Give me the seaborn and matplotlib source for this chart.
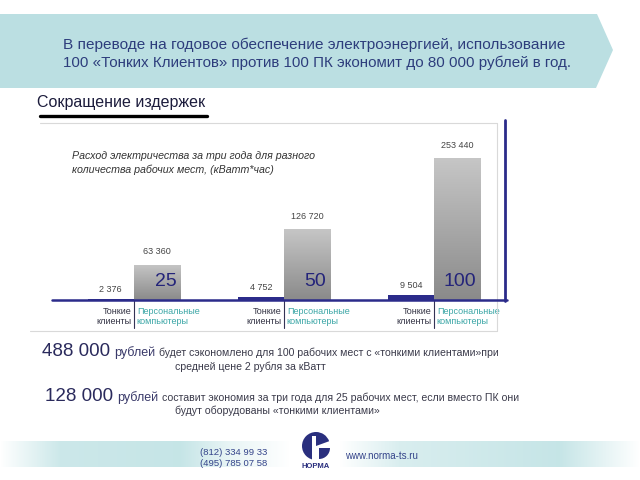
import numpy as np
import pandas as pd
import seaborn as sns
import matplotlib
matplotlib.use('Agg')
import matplotlib.pyplot as plt
from matplotlib.patches import Polygon, Wedge, Rectangle
from matplotlib.lines import Line2D
import matplotlib.transforms as mtransforms

# ---------------- data ----------------
groups = ['25', '50', '100']
types = ['Тонкие\nклиенты', 'Персональные\nкомпьютеры']
thin_values = [2376, 4752, 9504]
pc_values = [63360, 126720, 253440]

title_lines = ['В переводе на годовое обеспечение электроэнергией, использование',
               '100 «Тонких Клиентов» против 100 ПК экономит до 80 000 рублей в год.']
section_title = 'Сокращение издержек'
chart_note = 'Расход электричества за три года для разного\nколичества рабочих мест, (кВатт*час)'
savings = [('488 000', 'рублей', 'будет сэкономлено для 100 рабочих мест с «тонкими клиентами»при',
            'средней цене 2 рубля за кВатт'),
           ('128 000', 'рублей', 'составит экономия за три года для 25 рабочих мест, если вместо ПК они',
            'будут оборудованы «тонкими клиентами»')]
phones = '(812) 334 99 33\n(495) 785 07 58'
site = 'www.norma-ts.ru'
brand = 'НОРМА'

df = pd.DataFrame({'group': groups * 2,
                   'type': [types[0]] * 3 + [types[1]] * 3,
                   'value': thin_values + pc_values})

sns.set_theme(style='white')
plt.rcParams['font.family'] = ['Liberation Sans', 'DejaVu Sans']
NARROW = ['Liberation Sans Narrow', 'Liberation Sans', 'DejaVu Sans']

W, H = 640, 480
fig = plt.figure(figsize=(6.4, 4.8), dpi=100)
fig.patch.set_facecolor('white')


def fx(x):
    return x / W


def fy(y):
    return 1 - y / H


NAVY = '#2b2b8a'
TITLE = '#2d3d7c'

# ---------------- banner ----------------
banner = Polygon([(fx(0), fy(14)), (fx(597), fy(14)), (fx(613), fy(50)),
                  (fx(596), fy(88)), (fx(0), fy(88))], closed=True,
                 transform=fig.transFigure, facecolor='#bbdfe2', edgecolor='none', zorder=0)
fig.patches.append(banner)
fig.text(fx(63), fy(45), title_lines[0], fontsize=11.1, color=TITLE, va='center', ha='left')
fig.text(fx(63), fy(63), title_lines[1], fontsize=10.9, color=TITLE, va='center', ha='left')

fig.text(fx(37), fy(102), section_title, fontsize=11.5, color='#1c1c3c', va='center', ha='left')
fig.add_artist(Line2D([fx(40), fx(207)], [fy(116), fy(116)], color='black', lw=2.4,
                      transform=fig.transFigure))

# chart frame (light gray)
frame_col = '#d9d9d9'
fig.add_artist(Line2D([fx(40), fx(497)], [fy(123), fy(123)], color=frame_col, lw=0.8, transform=fig.transFigure))
fig.add_artist(Line2D([fx(497), fx(497)], [fy(123), fy(331)], color=frame_col, lw=0.8, transform=fig.transFigure))
fig.add_artist(Line2D([fx(30), fx(497)], [fy(331), fy(331)], color=frame_col, lw=0.8, transform=fig.transFigure))

# ---------------- bar chart ----------------
ax = fig.add_axes([fx(40), fy(300), 465 / W, 180 / H])
sns.barplot(data=df, x='group', y='value', hue='type', hue_order=types,
            palette=[NAVY, '#a0a0a0'], width=0.62, dodge=True, ax=ax,
            legend=False, saturation=1, linewidth=0, errorbar=None)
ax.set_xlim(-(134 - 40) / 150, (505 - 134) / 150)
ax.set_ylim(0, 180 * 253440 / 142)
ax.axis('off')
ax.patch.set_alpha(0)

thin_c, pc_c = ax.containers[0], ax.containers[1]

# gradient on PC bars
grad = np.linspace(0, 1, 256).reshape(-1, 1)
cmap = matplotlib.colors.LinearSegmentedColormap.from_list('g', ['#c6c6c6', '#8a8a8a'])
for p in pc_c:
    x0, w, h = p.get_x(), p.get_width(), p.get_height()
    p.set_facecolor('none')
    im = ax.imshow(grad, extent=(x0, x0 + w, 0, h), origin='upper', cmap=cmap,
                   aspect='auto', zorder=p.get_zorder() - 0.1)
    im.set_clip_path(p)

fmt = lambda v: f'{v:,}'.replace(',', ' ')
ax.bar_label(thin_c, labels=[fmt(v) for v in thin_values], padding=3.5,
             fontsize=6.5, color='#444444', family=NARROW)
ax.bar_label(pc_c, labels=[fmt(v) for v in pc_values], padding=6,
             fontsize=6.5, color='#444444', family=NARROW)

for p, g in zip(pc_c, groups):
    ax.annotate(g, xy=(p.get_x() + p.get_width(), 0), xytext=(-3, 7),
                textcoords='offset points', ha='right', va='bottom',
                fontsize=14, color='#24247a', family=NARROW)

blend = mtransforms.blended_transform_factory(ax.transData, ax.transAxes)
for i in range(len(groups)):
    ax.add_line(Line2D([i, i], [0, -28 / 180], color='#333355', lw=0.8,
                       transform=blend, clip_on=False))
    ax.annotate(types[0], xy=(i, 0), xycoords=blend, xytext=(-2, -5),
                textcoords='offset points', ha='right', va='top', fontsize=6.5,
                color='#333344', multialignment='right', linespacing=1.15)
    ax.annotate(types[1], xy=(i, 0), xycoords=blend, xytext=(2, -5),
                textcoords='offset points', ha='left', va='top', fontsize=6.5,
                color='#3aa6a6', multialignment='left', linespacing=1.15)

fig.text(fx(72), fy(163), chart_note, fontsize=7.7, style='italic', color='#333333',
         va='center', ha='left', linespacing=1.45)

# navy baseline and right border
fig.add_artist(Line2D([fx(52), fx(507)], [fy(300), fy(300)], color=NAVY, lw=1.8,
                      transform=fig.transFigure))
fig.add_artist(Line2D([fx(505), fx(505)], [fy(120), fy(301)], color=NAVY, lw=2.0,
                      transform=fig.transFigure))

# ---------------- savings text ----------------
rows = [(42, 350, 367, 175), (45, 395, 411, 175)]
r = fig.canvas.get_renderer()
for (big, rub, rest, line2), (x0, y1, y2, x2) in zip(savings, rows):
    yb = y1 + 6
    t1 = fig.text(fx(x0), fy(yb), big, fontsize=13.5, color='#2a2a5c', va='baseline', ha='left')
    bb = t1.get_window_extent(r)
    t2 = fig.text((bb.x1 + 4) / W, fy(yb), rub, fontsize=9, color='#3a3a6a', va='baseline', ha='left')
    bb2 = t2.get_window_extent(r)
    fig.text((bb2.x1 + 4) / W, fy(yb), rest, fontsize=7.6, color='#3a3a4a', va='baseline', ha='left')
    fig.text(fx(x2), fy(y2), line2, fontsize=7.6, color='#3a3a4a', va='center', ha='left')

# ---------------- footer ----------------
fax = fig.add_axes([0, fy(467), 1, 26 / H])
xs = np.linspace(0, 640, 640)
alpha = np.interp(xs, [0, 60, 180, 230, 290, 340, 400, 560, 640],
                  [0.0, 0.8, 0.9, 0.35, 0.0, 0.0, 0.6, 0.9, 0.0])
rgba = np.zeros((1, 640, 4))
rgba[..., :3] = matplotlib.colors.to_rgb('#bfe2e4')
rgba[..., 3] = alpha
fax.imshow(rgba, aspect='auto', extent=(0, 640, 0, 1))
fax.axis('off')

fig.text(fx(200), fy(458), phones, fontsize=6.8, color='#34448a', va='center', ha='left',
         linespacing=1.25, family=NARROW)
fig.text(fx(345), fy(456), site, fontsize=7, color='#34448a', va='center', ha='left')

lax = fig.add_axes([fx(298), fy(462), 36 / W, 32 / H])
lax.set_xlim(-18, 18)
lax.set_ylim(-16, 16)
lax.axis('off')
lax.add_patch(Wedge((0, 0), 14, 90, 270, facecolor='#2a2f7e', edgecolor='none'))
lax.add_patch(Wedge((0, 0), 14, 20, 90, facecolor='#2a2f7e', edgecolor='none'))
lax.add_patch(Wedge((3, -2), 11, 270, 360, facecolor='#2a2f7e', edgecolor='none'))
lax.add_patch(Rectangle((-4, -16), 4, 26, facecolor='white', edgecolor='none'))
fig.text(fx(316), fy(467), brand, fontsize=5.5, weight='bold', color='#2a2f7e',
         va='center', ha='center')

fig.savefig('out.png', dpi=100)
